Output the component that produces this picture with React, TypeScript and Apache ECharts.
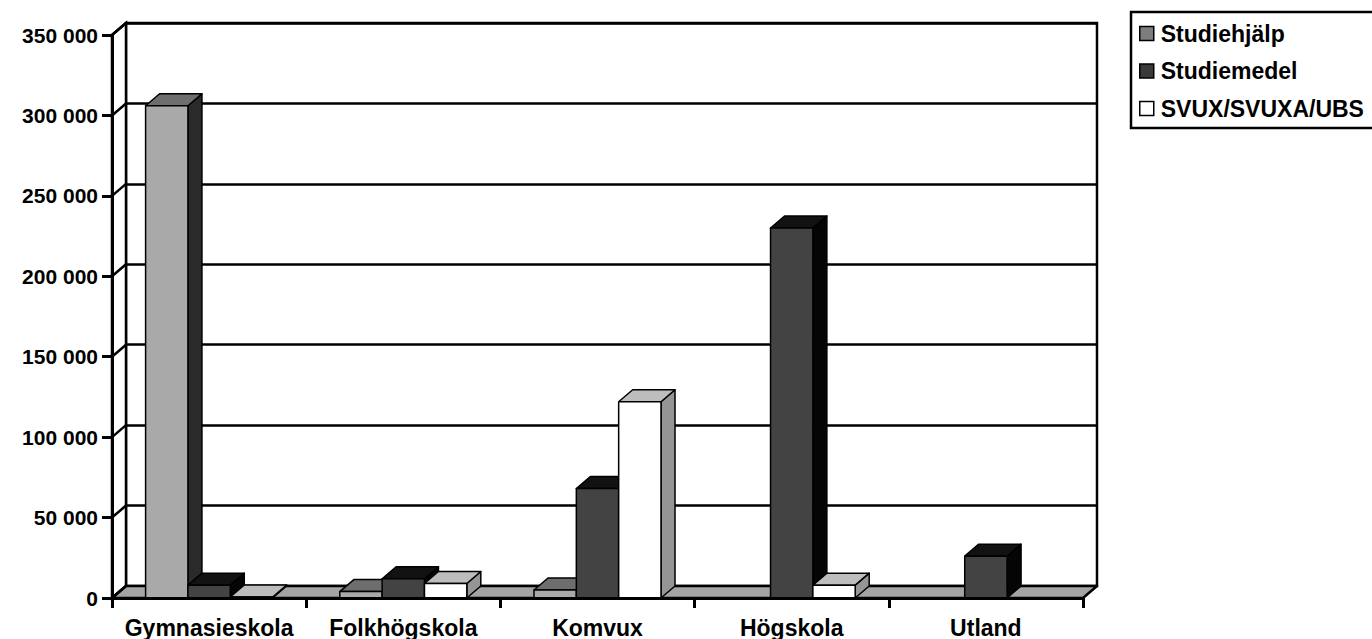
import React, { useEffect, useRef } from "react";
import * as echarts from "echarts";

const categories = ["Gymnasieskola", "Folkhögskola", "Komvux", "Högskola", "Utland"];
const seriesNames = ["Studiehjälp", "Studiemedel", "SVUX/SVUXA/UBS"];
const studiehjalp = [306000, 4000, 5000, 0, 0];
const studiemedel = [8000, 12000, 68000, 230000, 26000];
const svux = [600, 9000, 122000, 8000, 0];
const yTicks = [0, 50000, 100000, 150000, 200000, 250000, 300000, 350000];

const FONT = "'Liberation Sans', Arial, Helvetica, sans-serif";
const DX = 14;
const DY = -12;
const BW = 0.218;

const faceColors = [
  { front: "#a9a9a9", top: "#6e6e6e", side: "#2a2a2a" },
  { front: "#434343", top: "#121212", side: "#050505" },
  { front: "#ffffff", top: "#bdbdbd", side: "#959595" },
];

function barRenderer(idx: number) {
  return (params: any, api: any) => {
    const cat = api.value(0);
    const v = api.value(1);
    if (!v) return null;
    const base = api.coord([cat, 0]);
    const topP = api.coord([cat, v]);
    const band = api.size([1, 0])[0];
    const w = band * BW;
    const cx = base[0] + (idx - 1) * w;
    const x0 = cx - w / 2;
    const x1 = cx + w / 2;
    const y0 = base[1];
    const y1 = topP[1];
    const c = faceColors[idx];
    const st = (fill: string) => ({ fill, stroke: "#000", lineWidth: 1.5, lineJoin: "round" });
    return {
      type: "group",
      children: [
        {
          type: "polygon",
          shape: { points: [[x1, y1], [x1 + DX, y1 + DY], [x1 + DX, y0 + DY], [x1, y0]] },
          style: st(c.side),
        },
        {
          type: "polygon",
          shape: { points: [[x0, y1], [x0 + DX, y1 + DY], [x1 + DX, y1 + DY], [x1, y1]] },
          style: st(c.top),
        },
        {
          type: "rect",
          shape: { x: x0, y: y1, width: w, height: Math.max(y0 - y1, 0.5) },
          style: st(c.front),
        },
      ],
    };
  };
}

export default function App() {
  const ref = useRef<HTMLDivElement>(null);
  useEffect(() => {
    if (!ref.current) return;
    const chart = echarts.init(ref.current, undefined, { renderer: "svg" });
    const fmt = (v: number) => String(v).replace(/\B(?=(\d{3})+(?!\d))/g, " ");
    const seriesData = [studiehjalp, studiemedel, svux];
    const option: any = {
      animation: false,
      backgroundColor: "#ffffff",
      textStyle: { fontFamily: FONT },
      legend: {
        orient: "vertical",
        left: 1131,
        top: 12,
        padding: [10, 24, 8, 8],
        borderColor: "#000",
        borderWidth: 2.5,
        itemWidth: 14,
        itemHeight: 14,
        itemGap: 14.5,
        selectedMode: false,
        textStyle: { fontSize: 23, lineHeight: 23, fontWeight: "bold", fontFamily: FONT, color: "#000", padding: [0, 0, 0, 2] },
        data: seriesNames.map((n, i) => ({
          name: n,
          icon: "rect",
          itemStyle: { color: i === 0 ? "#7d7d7d" : i === 1 ? "#3a3a3a" : "#ffffff", borderColor: "#000", borderWidth: 1.5 },
        })),
      },
      grid: [
        { left: 112, top: 35, width: 971, height: 563, containLabel: false },
        { left: 112 + DX, top: 35 + DY, width: 971, height: 563, show: true, borderColor: "#000", borderWidth: 2.5, backgroundColor: "transparent", z: 0 },
      ],
      xAxis: [
        {
          type: "category",
          gridIndex: 0,
          data: categories,
          boundaryGap: true,
          axisLine: { show: true, lineStyle: { color: "#000", width: 3 } },
          axisTick: { show: true, interval: 0, length: 10, lineStyle: { color: "#000", width: 3 } },
          axisLabel: { show: true, interval: 0, margin: 18, fontSize: 23, fontWeight: "bold", color: "#000", fontFamily: FONT },
          splitLine: { show: false },
          z: 5,
        },
        { type: "category", gridIndex: 1, data: categories, show: false },
      ],
      yAxis: [
        {
          type: "value",
          gridIndex: 0,
          min: 0,
          max: 350000,
          interval: 50000,
          axisLine: { show: true, lineStyle: { color: "#000", width: 3 } },
          axisTick: { show: true, length: 10, lineStyle: { color: "#000", width: 3 } },
          axisLabel: { show: true, margin: 14, fontSize: 21, fontWeight: "bold", color: "#000", fontFamily: FONT, formatter: fmt },
          splitLine: { show: false },
          z: 5,
        },
        {
          type: "value",
          gridIndex: 1,
          min: 0,
          max: 350000,
          interval: 50000,
          axisLine: { show: false },
          axisTick: { show: false },
          axisLabel: { show: false },
          splitLine: { show: true, lineStyle: { color: "#000", width: 2.5 } },
        },
      ],
      series: [
        {
          type: "custom",
          name: "walls",
          xAxisIndex: 0,
          yAxisIndex: 0,
          z: 1,
          silent: true,
          data: [[0, 0]],
          renderItem: (params: any, api: any) => {
            const cs = params.coordSys;
            const yb = api.coord([0, 0])[1];
            const yt = api.coord([0, yTicks[yTicks.length - 1]])[1];
            const xl = cs.x;
            const xr = cs.x + cs.width;
            return {
              type: "group",
              children: [
                {
                  type: "polygon",
                  shape: { points: [[xl, yt], [xl + DX, yt + DY], [xl + DX, yb + DY], [xl, yb]] },
                  style: { fill: "#ffffff", stroke: "#000", lineWidth: 2.5 },
                },
                {
                  type: "polygon",
                  shape: { points: [[xl, yb], [xr, yb], [xr + DX, yb + DY], [xl + DX, yb + DY]] },
                  style: { fill: "#a4a4a4", stroke: "#000", lineWidth: 2.5, lineJoin: "round" },
                },
              ],
            };
          },
        },
        {
          type: "custom",
          name: "sidelines",
          xAxisIndex: 0,
          yAxisIndex: 0,
          z: 1,
          silent: true,
          data: yTicks.map((v) => [0, v]),
          renderItem: (params: any, api: any) => {
            const cs = params.coordSys;
            const y = api.coord([0, api.value(1)])[1];
            return {
              type: "line",
              shape: { x1: cs.x, y1: y, x2: cs.x + DX, y2: y + DY },
              style: { stroke: "#000", lineWidth: 2.5 },
            };
          },
        },
        ...seriesNames.map((n, i) => ({
          type: "custom",
          name: n,
          xAxisIndex: 0,
          yAxisIndex: 0,
          z: 3 + i,
          encode: { x: 0, y: 1 },
          itemStyle: { color: faceColors[i].front, borderColor: "#000", borderWidth: 1.5 },
          data: categories.map((c, k) => [k, seriesData[i][k]]),
          renderItem: barRenderer(i),
        })),
      ],
    };
    chart.setOption(option);
    return () => chart.dispose();
  }, []);
  return <div ref={ref} style={{ position: "fixed", left: 0, top: 0, width: 1372, height: 639, background: "#fff" }} />;
}
